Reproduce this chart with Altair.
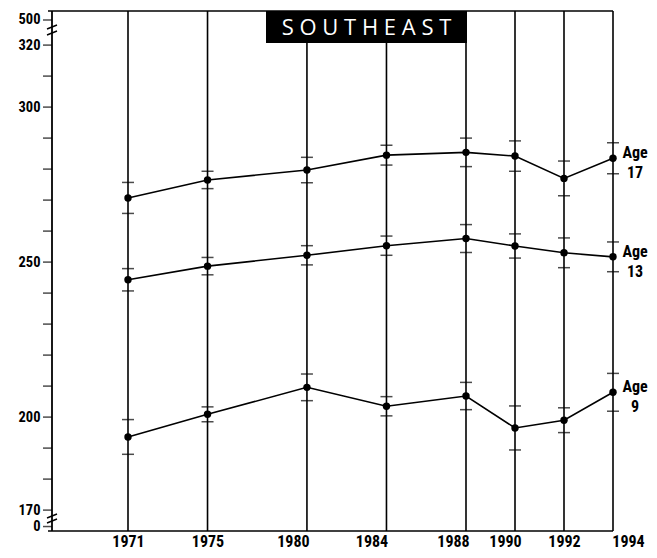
import altair as alt
import pandas as pd

years = [1971, 1975, 1980, 1984, 1988, 1990, 1992, 1994]
age17 = [270.7, 276.5, 279.7, 284.5, 285.4, 284.2, 277.0, 283.5]
err17 = [5.0, 2.8, 4.1, 3.2, 4.6, 4.9, 5.6, 5.0]
age13 = [244.3, 248.7, 252.2, 255.3, 257.6, 255.2, 253.0, 251.7]
err13 = [3.6, 2.8, 3.1, 3.1, 4.5, 3.9, 4.8, 4.8]
age9 = [193.6, 200.9, 209.6, 203.5, 206.8, 196.5, 199.0, 208.0]
err9 = [5.6, 2.4, 4.3, 3.1, 4.4, 7.1, 4.0, 6.1]
series_names = ["Age\n17", "Age\n13", "Age\n9"]
y_ticks = [164.7] + list(range(170, 330, 10)) + [328.1]
y_labeled = [170, 200, 250, 300, 320]
title_text = "S O U T H E A S T"
TICK_AT = 1966      # x-scale position of the y-axis tick centres

rows = []
for name, vals, errs in zip(series_names, [age17, age13, age9], [err17, err13, err9]):
    for yr, v, e in zip(years, vals, errs):
        rows.append({"year": yr, "age": name, "score": v, "lo": v - e, "hi": v + e})
df = pd.DataFrame(rows)
last = df[df.year == years[-1]]
df_years = pd.DataFrame({"year": years})
df_yt = pd.DataFrame({"v": y_ticks, "year": [TICK_AT] * len(y_ticks)})

AX = 9
W, H = 570, 520
FONT = "'Liberation Sans Narrow', 'Roboto Condensed', 'DejaVu Sans Condensed', sans-serif"

xscale = alt.Scale(domain=[TICK_AT, 1971, 1988, 1994],
                   range=[AX - 4.5, 76 + AX, 414 + AX, 561 + AX])
yscale = alt.Scale(domain=[163.26, 331.0], nice=False, zero=False)

label_shift = {
    "condition": [
        {"test": "datum.value == 1980", "value": -14},
        {"test": "datum.value == 1984", "value": -15},
        {"test": "datum.value == 1988", "value": -13},
        {"test": "datum.value == 1990", "value": -10},
        {"test": "datum.value == 1994", "value": 15},
    ],
    "value": 0,
}

xaxis = alt.Axis(values=years, format="d", ticks=False, grid=False, title=None,
                 domain=False, labelFlush=False, labelOverlap=False,
                 labelFontSize=16, labelFontWeight="bold", labelFont=FONT,
                 labelPadding=2, labelColor="black", labelOffset=label_shift)
yaxis = alt.Axis(values=y_ticks, grid=False, title=None, domain=False, ticks=False,
                 labelOverlap=False, labelFlush=False,
                 labelFontSize=14.5, labelFontWeight="bold", labelFont=FONT, labelColor="black",
                 labelPadding=3,
                 labelExpr="datum.value < 168 ? '0' : datum.value > 325 ? '500' : "
                           "(indexof(" + str(y_labeled) + ", datum.value) >= 0 ? datum.label : '')")

X = lambda f: alt.X(f, scale=xscale, axis=xaxis)
Y = lambda f: alt.Y(f, scale=yscale, axis=yaxis)

base = alt.Chart(df)
one = pd.DataFrame({"k": [0]})

vrules = alt.Chart(df_years).mark_rule(color="black", strokeWidth=1.6).encode(
    x=X("year:Q"), y=alt.value(0), y2=alt.value(H))

axis_bar = alt.Chart(one).mark_rect(color="black").encode(
    x=alt.value(AX - 0.9), x2=alt.value(AX + 0.9), y=alt.value(0), y2=alt.value(H))

yticks = alt.Chart(df_yt).mark_tick(color="black", size=9, thickness=1.5,
                                    orient="horizontal").encode(
    x=X("year:Q"), y=Y("v:Q"))

lines = base.mark_line(color="black", strokeWidth=1.6).encode(
    x=X("year:Q"), y=Y("score:Q"), detail="age:N")

tick_lo = base.mark_tick(color="black", size=12, thickness=1.5, orient="horizontal").encode(
    x=X("year:Q"), y=Y("lo:Q"))
tick_hi = base.mark_tick(color="black", size=12, thickness=1.5, orient="horizontal").encode(
    x=X("year:Q"), y=Y("hi:Q"))

points = base.mark_circle(color="black", opacity=1, size=55).encode(
    x=X("year:Q"), y=Y("score:Q"))

labels = alt.Chart(last).mark_text(align="center", baseline="middle", dx=22, dy=-5,
                                   lineBreak="\n", lineHeight=20, fontSize=16,
                                   fontWeight="bold", font=FONT, color="black").encode(
    x=X("year:Q"), y=Y("score:Q"), text="age:N")

title_box = alt.Chart(one).mark_rect(color="black").encode(
    x=alt.value(214 + AX), x2=alt.value(415 + AX), y=alt.value(0), y2=alt.value(32))
title = alt.Chart(pd.DataFrame({"t": [title_text]})).mark_text(
    color="white", fontSize=22, font="'Open Sans', 'Liberation Sans', sans-serif",
    align="center", baseline="middle").encode(
    x=alt.value(314.5 + AX), y=alt.value(16.5), text="t:N")

frame = [
    alt.Chart(one).mark_rule(color="black", strokeWidth=1.6).encode(
        x=alt.value(AX - 4), x2=alt.value(W), y=alt.value(0)),
    alt.Chart(one).mark_rule(color="black", strokeWidth=1.6).encode(
        x=alt.value(AX - 4), x2=alt.value(W), y=alt.value(H)),
]

brk = []
for yb in [16, 22, 505, 510]:
    brk.append(alt.Chart(one).mark_rule(color="black", strokeWidth=1.4).encode(
        x=alt.value(AX - 5), x2=alt.value(AX + 5), y=alt.value(yb + 2), y2=alt.value(yb - 2)))

chart = alt.layer(vrules, axis_bar, yticks, lines, tick_lo, tick_hi, points, labels,
                  title_box, title, *frame, *brk).properties(
    width=W, height=H,
    autosize=alt.AutoSizeParams(type="none"),
    padding={"left": 44 - AX, "top": 3, "right": 36, "bottom": 18},
    background="white",
).configure_view(stroke=None).configure_axis(grid=False)

chart.save("out.html", embed_options={"renderer": "svg", "actions": False})
